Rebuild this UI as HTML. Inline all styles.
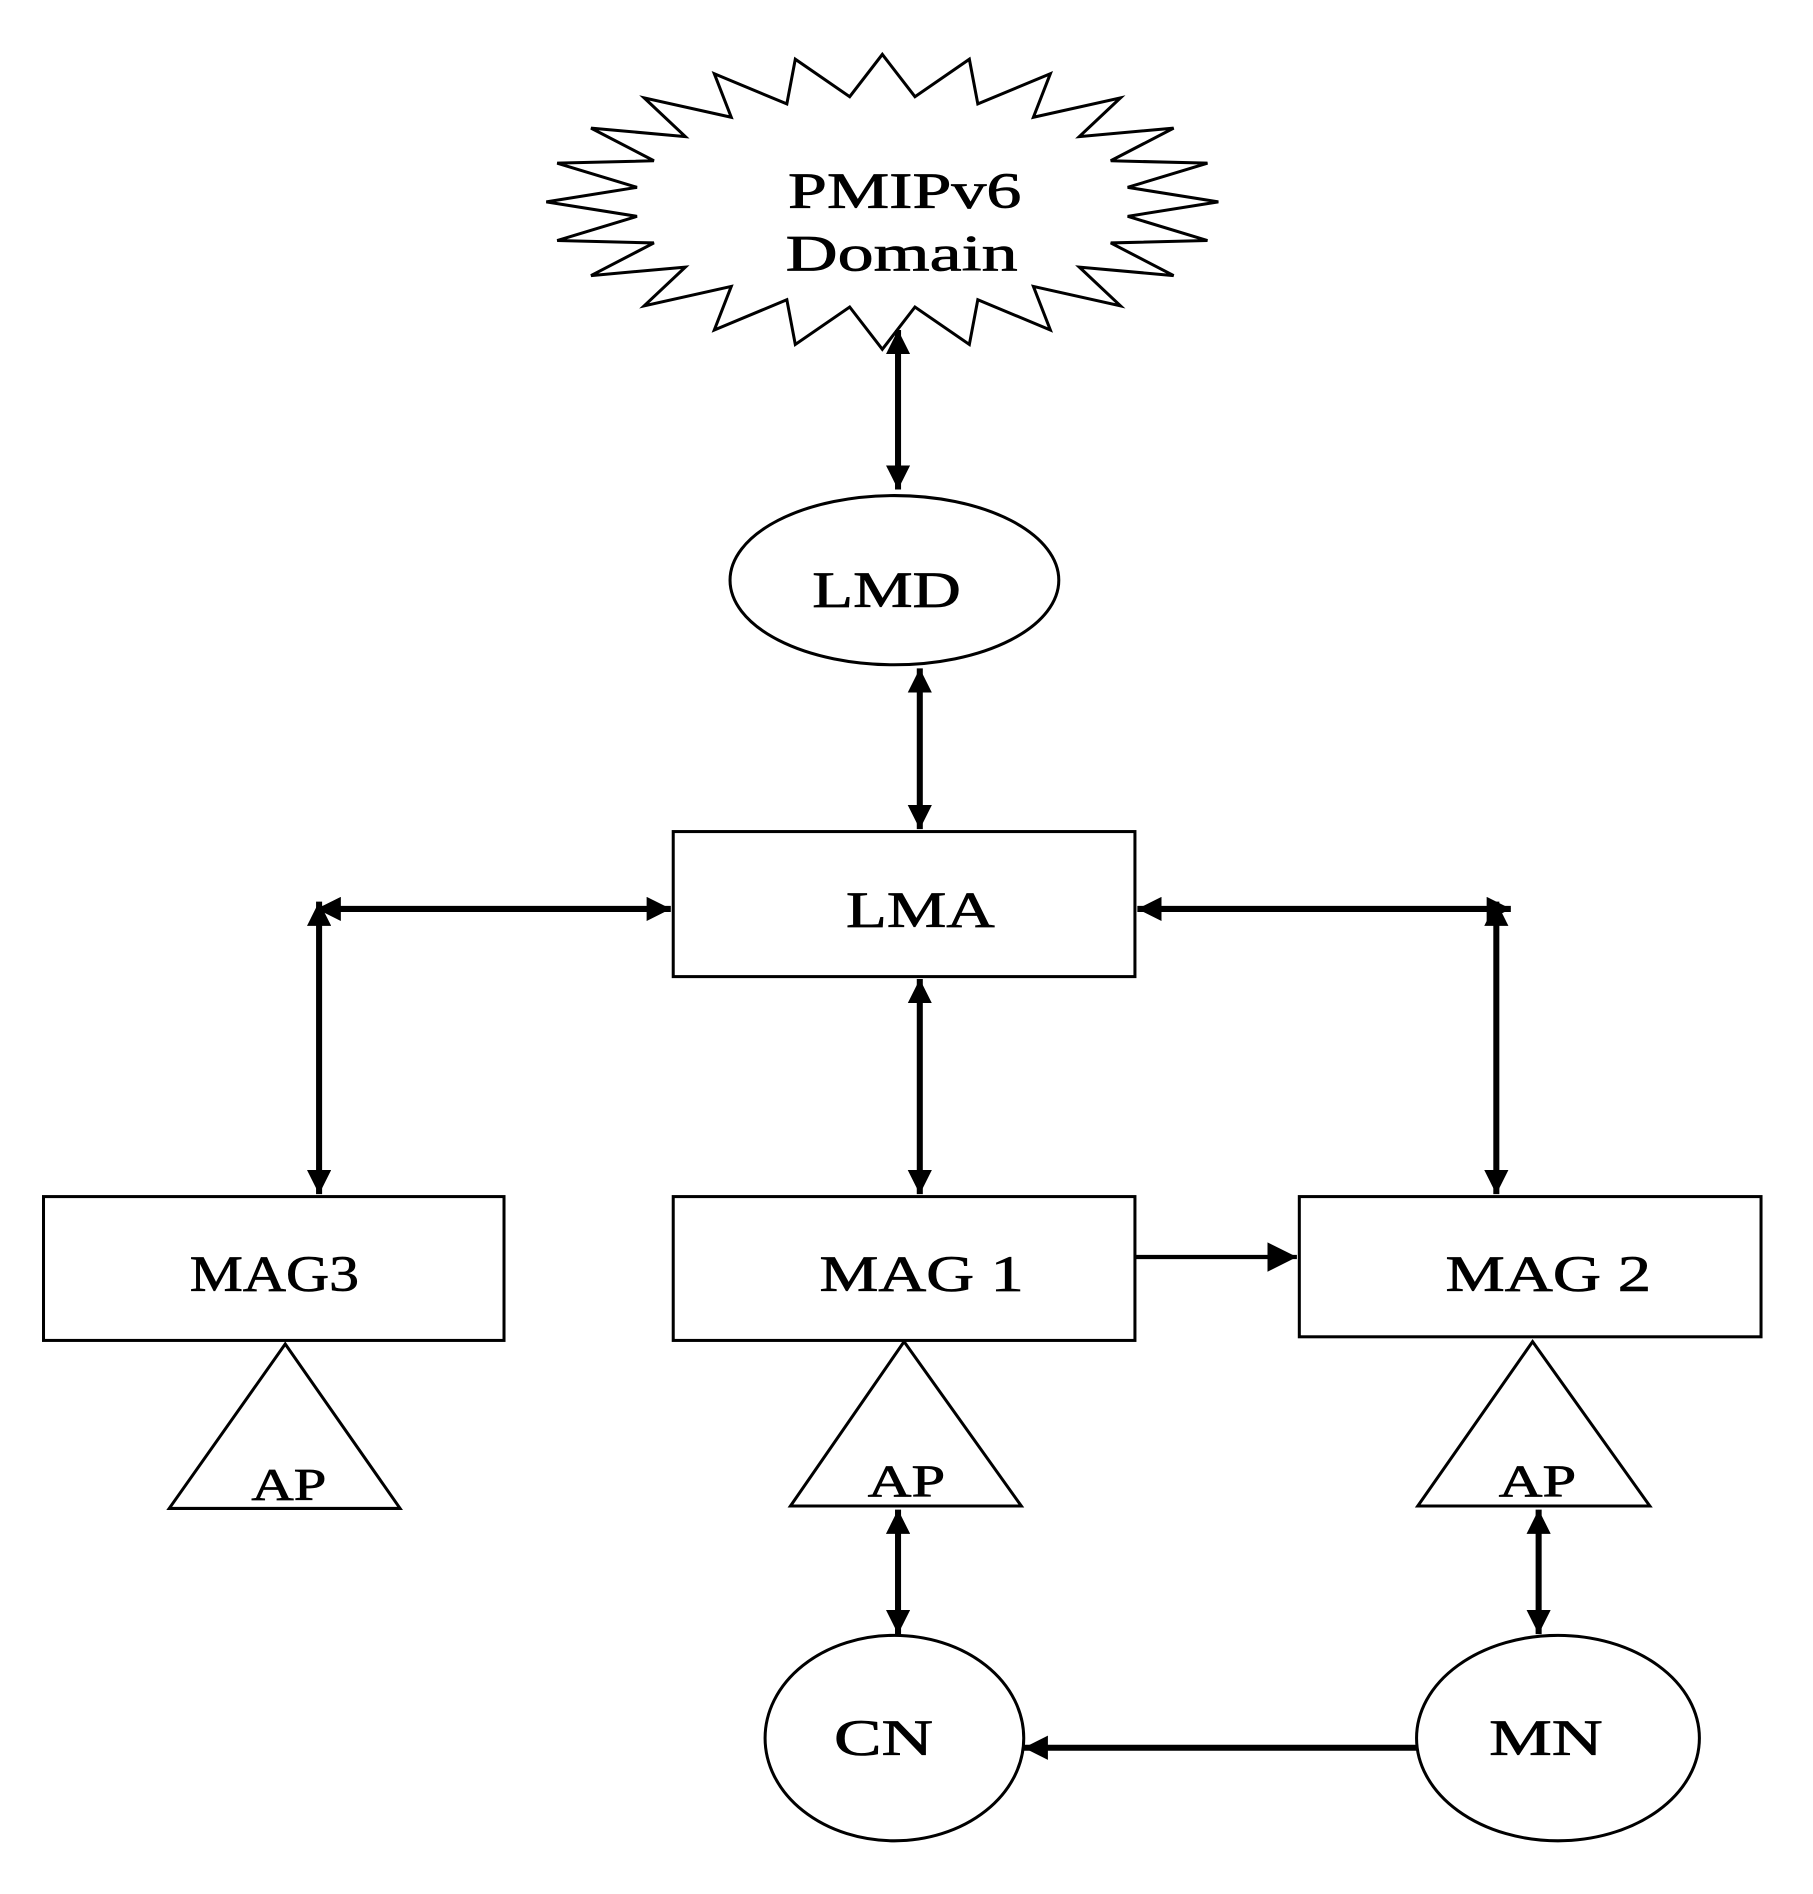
<!DOCTYPE html>
<html><head><meta charset="utf-8"><style>html,body{margin:0;padding:0;background:#fff}svg{display:block}</style></head>
<body>
<svg width="1813" height="1894" viewBox="0 0 1500 1567" preserveAspectRatio="none" xmlns="http://www.w3.org/2000/svg">
<defs>
<marker id="a" viewBox="0 0 10 10" refX="10" refY="5" markerWidth="4" markerHeight="4" orient="auto-start-reverse" markerUnits="strokeWidth">
<path d="M0,0 L10,5 L0,10 z" fill="#000"/></marker>
<marker id="b" viewBox="0 0 10 10" refX="10" refY="5" markerWidth="7" markerHeight="7" orient="auto-start-reverse" markerUnits="strokeWidth">
<path d="M0,0 L10,5 L0,10 z" fill="#000"/></marker>
</defs>
<g fill="#fff" stroke="#000" stroke-width="2.5">
<polygon points="1008,167 933,179 999,199 919,201 971,228 893,221 927,253 855,237 869,273 809,248 802,285 757,254 730,289 703,254 658,285 651,248 591,273 605,237 533,253 567,221 489,228 541,201 461,199 527,179 452,167 527,155 461,135 541,133 489,106 567,113 533,81 605,97 591,61 651,86 658,49 703,80 730,45 757,80 802,49 809,86 869,61 855,97 927,81 893,113 971,106 919,133 999,135 933,155"/>
<ellipse cx="740" cy="480" rx="136" ry="70"/>
<rect x="557" y="688" width="382" height="120"/>
<rect x="36" y="990" width="381" height="119"/>
<rect x="557" y="990" width="382" height="119"/>
<rect x="1075" y="990" width="382" height="116"/>
<polygon points="236,1112 140,1248 331,1248"/>
<polygon points="748,1110 654,1246 845,1246"/>
<polygon points="1268,1110 1173,1246 1365,1246"/>
<ellipse cx="740" cy="1438" rx="107" ry="85"/>
<ellipse cx="1289" cy="1438" rx="117" ry="85"/>
</g>
<g stroke="#000" stroke-width="5" fill="none">
<line x1="743" y1="273" x2="743" y2="405" marker-start="url(#a)" marker-end="url(#a)"/>
<line x1="761" y1="553" x2="761" y2="686" marker-start="url(#a)" marker-end="url(#a)"/>
<line x1="262" y1="752" x2="555" y2="752" marker-start="url(#a)" marker-end="url(#a)"/>
<line x1="264" y1="746" x2="264" y2="988" marker-start="url(#a)" marker-end="url(#a)"/>
<line x1="941" y1="752" x2="1250" y2="752" marker-start="url(#a)" marker-end="url(#a)"/>
<line x1="1238" y1="746" x2="1238" y2="988" marker-start="url(#a)" marker-end="url(#a)"/>
<line x1="761" y1="810" x2="761" y2="988" marker-start="url(#a)" marker-end="url(#a)"/>
<line x1="743" y1="1249" x2="743" y2="1352" marker-start="url(#a)" marker-end="url(#a)"/>
<line x1="1273" y1="1249" x2="1273" y2="1352" marker-start="url(#a)" marker-end="url(#a)"/>
<line x1="1172" y1="1446" x2="847" y2="1446" marker-end="url(#a)"/>
<line x1="939" y1="1040" x2="1073" y2="1040" stroke-width="3.5" marker-end="url(#b)"/>
</g>
<g font-family="'Liberation Serif',serif" font-size="42" fill="#000" stroke="#000" stroke-width="0.6" lengthAdjust="spacingAndGlyphs">
<text x="652" y="172" textLength="193" lengthAdjust="spacingAndGlyphs">PMIPv6</text>
<text x="650" y="224" textLength="192" lengthAdjust="spacingAndGlyphs">Domain</text>
<text x="672" y="502" textLength="123" lengthAdjust="spacingAndGlyphs">LMD</text>
<text x="700" y="767" textLength="123" lengthAdjust="spacingAndGlyphs">LMA</text>
<text x="157" y="1068" textLength="140" lengthAdjust="spacingAndGlyphs">MAG3</text>
<text x="678" y="1068" textLength="169" lengthAdjust="spacingAndGlyphs">MAG 1</text>
<text x="1196" y="1068" textLength="170" lengthAdjust="spacingAndGlyphs">MAG 2</text>
<text x="208" y="1241" font-size="38" textLength="62" lengthAdjust="spacingAndGlyphs">AP</text>
<text x="718" y="1238" font-size="38" textLength="64" lengthAdjust="spacingAndGlyphs">AP</text>
<text x="1240" y="1238" font-size="38" textLength="64" lengthAdjust="spacingAndGlyphs">AP</text>
<text x="690" y="1452" textLength="82" lengthAdjust="spacingAndGlyphs">CN</text>
<text x="1232" y="1452" textLength="94" lengthAdjust="spacingAndGlyphs">MN</text>
</g>
</svg>
</body></html>
